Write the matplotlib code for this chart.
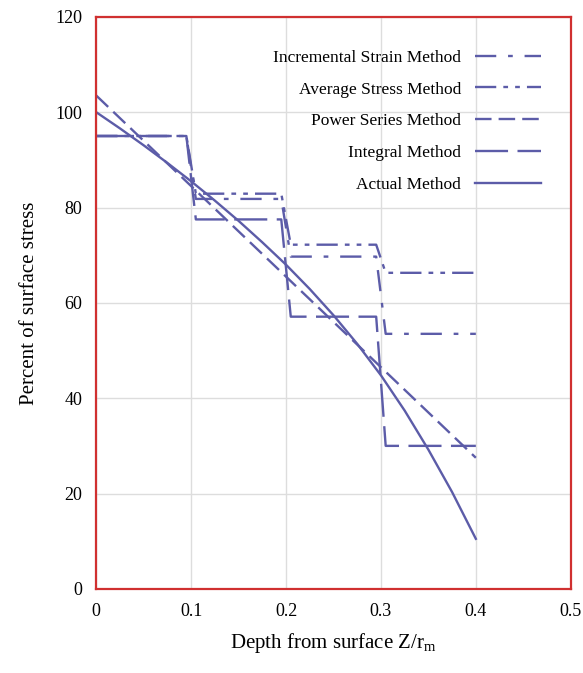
import matplotlib.pyplot as plt

# data
x_step = [0, 0.095, 0.105, 0.195, 0.205, 0.295, 0.305, 0.4]
incremental = [95, 95, 81.8, 81.8, 69.7, 69.7, 53.5, 53.5]
average = [95, 95, 82.9, 82.9, 72.2, 72.2, 66.3, 66.3]
integral = [95, 95, 77.5, 77.5, 57.1, 57.1, 30, 30]
x_power = [0, 0.4]
power = [103.5, 27.5]
x_actual = [0, 0.025, 0.05, 0.075, 0.1, 0.125, 0.15, 0.175, 0.2,
            0.225, 0.25, 0.275, 0.3, 0.325, 0.35, 0.375, 0.4]
actual = [100, 96.6, 93.05, 89.35, 85.5, 81.45, 77.2, 72.7, 68,
          62.9, 57.4, 51.4, 44.8, 37.4, 29.2, 20.3, 10.5]

plt.rcParams['font.family'] = ['Liberation Serif', 'DejaVu Serif']
plt.rcParams['mathtext.fontset'] = 'custom'
plt.rcParams['mathtext.rm'] = 'Liberation Serif'
col = '#5c5ca8'

fig = plt.figure(figsize=(5.83, 6.73), dpi=100)
ax = fig.add_axes([0.165, 0.125, 0.814, 0.85])

ax.plot(x_step, incremental, color=col, lw=1.7, ls=(0, (9, 5, 2, 5)), label='Incremental Strain Method')
ax.plot(x_step, average, color=col, lw=1.7, ls=(0, (9, 3, 2, 3, 2, 3)), label='Average Stress Method')
ax.plot(x_power, power, color=col, lw=1.7, ls=(0, (7, 3)), label='Power Series Method')
ax.plot(x_step, integral, color=col, lw=1.7, ls=(0, (14, 4)), label='Integral Method')
ax.plot(x_actual, actual, color=col, lw=1.7, solid_joinstyle='round', label='Actual Method')

ax.set_xlim(0, 0.5)
ax.set_ylim(0, 120)
ax.set_xticks([0, 0.1, 0.2, 0.3, 0.4, 0.5])
ax.set_xticklabels(['0', '0.1', '0.2', '0.3', '0.4', '0.5'])
ax.set_yticks(range(0, 121, 20))
ax.tick_params(length=0, labelsize=13, pad=10)
ax.grid(color='#dddddd', lw=1)
ax.set_axisbelow(True)
for s in ax.spines.values():
    s.set_color('#d03030')
    s.set_linewidth(1.6)

ax.set_xlabel('Depth from surface Z/r$_\\mathrm{m}$', fontsize=15, labelpad=8)
ax.set_ylabel('Percent of surface stress', fontsize=15, labelpad=12)

ax.legend(loc='upper right', bbox_to_anchor=(0.97, 0.97), frameon=False, markerfirst=False,
          fontsize=12.5, handlelength=3.8, labelspacing=0.9)

fig.savefig('out.png', dpi=100)
